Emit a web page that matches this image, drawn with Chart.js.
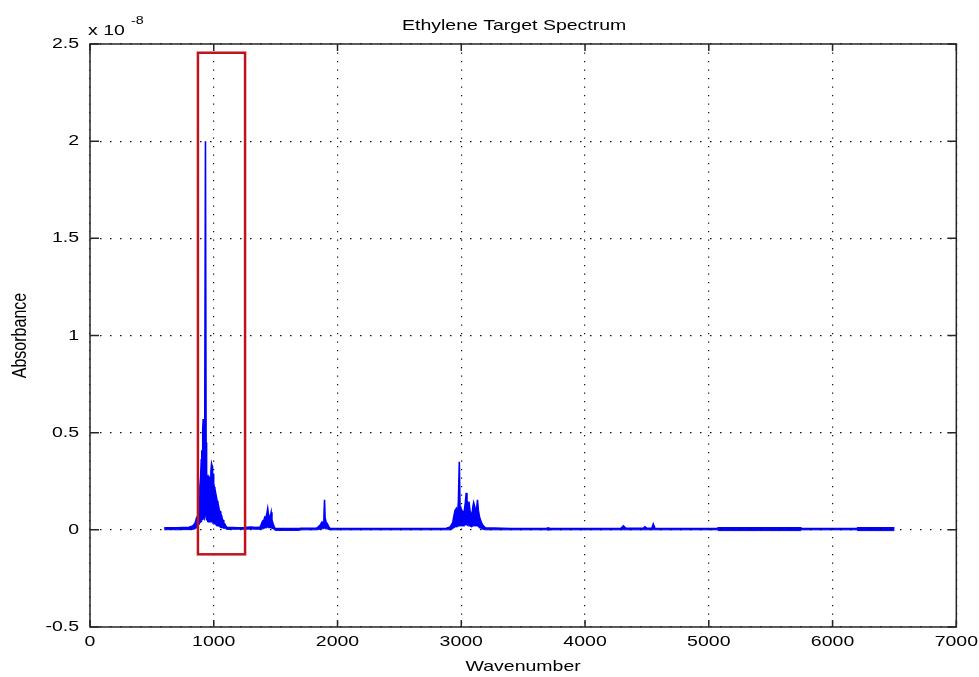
<!DOCTYPE html>
<html>
<head>
<meta charset="utf-8">
<title>Ethylene Target Spectrum</title>
<script src="https://cdn.jsdelivr.net/npm/chart.js@4.4.1/dist/chart.umd.min.js"></script>
<style>
  html, body { margin: 0; padding: 0; background: #ffffff; }
  #wrap { width: 979px; height: 677px; }
</style>
</head>
<body>
<div id="wrap"><canvas id="spectrum" width="979" height="677"></canvas></div>
<script>
// Absorbance samples (units of 1e-8): upper and lower edge of the dense line pattern
const wavenumber = [
  600, 650, 700, 750, 800, 830, 850, 860, 868, 875, 882, 888, 894, 899, 903, 907, 911, 915, 919, 923,
  927, 933, 938, 942, 947, 952, 957, 962, 967, 972, 977, 982, 986, 990, 994, 999, 1004, 1009, 1015, 1021,
  1027, 1033, 1039, 1045, 1051, 1057, 1063, 1069, 1075, 1081, 1089, 1097, 1106, 1150, 1200, 1250, 1300, 1340, 1375, 1385,
  1395, 1405, 1412, 1420, 1428, 1436, 1442, 1450, 1458, 1464, 1470, 1480, 1490, 1500, 1600, 1690, 1700, 1780, 1830, 1845,
  1860, 1875, 1885, 1890, 1895, 1900, 1908, 1918, 1930, 1940, 2100, 2300, 2500, 2700, 2880, 2910, 2930, 2940, 2950, 2960,
  2970, 2977, 2984, 2990, 2997, 3005, 3015, 3025, 3033, 3040, 3046, 3055, 3062, 3070, 3078, 3086, 3094, 3100, 3108, 3116,
  3124, 3131, 3138, 3146, 3155, 3165, 3178, 3195, 3400, 3690, 3700, 3720, 4000, 4290, 4310, 4330, 4470, 4484, 4500, 4540,
  4551, 4565, 4800, 5070, 5075, 5400, 5743, 5750, 6000, 6200, 6203, 6500
];
const absMax = [
  0.010, 0.011, 0.010, 0.012, 0.013, 0.020, 0.035, 0.060, 0.050, 0.120, 0.170, 0.220, 0.270, 0.360, 0.410, 0.390, 0.520, 0.570, 0.550, 0.480,
  0.500, 2.000, 0.450, 0.290, 0.270, 0.280, 0.250, 0.270, 0.260, 0.240, 0.300, 0.340, 0.330, 0.270, 0.290, 0.240, 0.220, 0.210, 0.190, 0.170,
  0.150, 0.140, 0.120, 0.100, 0.095, 0.080, 0.075, 0.055, 0.050, 0.035, 0.030, 0.020, 0.012, 0.012, 0.011, 0.012, 0.014, 0.012, 0.014, 0.030,
  0.045, 0.050, 0.065, 0.060, 0.080, 0.110, 0.080, 0.060, 0.070, 0.090, 0.050, 0.030, 0.012, 0.006, 0.006, 0.006, 0.008, 0.008, 0.009, 0.015,
  0.025, 0.040, 0.030, 0.060, 0.155, 0.060, 0.040, 0.030, 0.015, 0.008, 0.007, 0.007, 0.007, 0.007, 0.008, 0.015, 0.035, 0.070, 0.100, 0.110,
  0.080, 0.150, 0.350, 0.120, 0.090, 0.100, 0.085, 0.100, 0.140, 0.190, 0.150, 0.130, 0.145, 0.100, 0.080, 0.075, 0.120, 0.140, 0.120, 0.100,
  0.110, 0.155, 0.100, 0.070, 0.050, 0.035, 0.020, 0.010, 0.007, 0.007, 0.010, 0.007, 0.007, 0.008, 0.020, 0.008, 0.008, 0.016, 0.008, 0.008,
  0.030, 0.008, 0.007, 0.007, 0.010, 0.010, 0.010, 0.007, 0.007, 0.007, 0.010, 0.010
];
const absMin = [
  0.000, 0.001, 0.000, 0.001, 0.001, 0.002, 0.005, 0.010, 0.010, 0.020, 0.030, 0.030, 0.040, 0.040, 0.050, 0.050, 0.050, 0.060, 0.060, 0.050,
  0.060, 0.080, 0.060, 0.050, 0.050, 0.040, 0.040, 0.040, 0.040, 0.040, 0.040, 0.040, 0.040, 0.040, 0.030, 0.030, 0.030, 0.030, 0.030, 0.020,
  0.020, 0.020, 0.020, 0.015, 0.015, 0.010, 0.010, 0.010, 0.010, 0.008, 0.008, 0.005, 0.002, 0.003, 0.003, 0.003, 0.004, 0.003, 0.003, 0.003,
  0.005, 0.005, 0.010, 0.010, 0.010, 0.015, 0.010, 0.010, 0.010, 0.010, 0.008, 0.005, 0.000, -0.003, -0.003, -0.003, 0.000, 0.000, 0.000, 0.001,
  0.004, 0.005, 0.005, 0.005, 0.008, 0.005, 0.005, 0.004, 0.001, 0.000, 0.000, 0.000, 0.000, 0.000, 0.000, 0.000, 0.005, 0.010, 0.015, 0.015,
  0.015, 0.020, 0.020, 0.020, 0.020, 0.020, 0.020, 0.020, 0.025, 0.025, 0.025, 0.020, 0.020, 0.020, 0.015, 0.015, 0.020, 0.020, 0.020, 0.020,
  0.020, 0.020, 0.015, 0.010, 0.008, 0.005, 0.002, 0.000, 0.000, 0.000, -0.002, 0.000, 0.000, 0.000, 0.000, 0.000, 0.000, 0.000, 0.000, 0.000,
  0.000, 0.000, 0.000, 0.000, -0.004, -0.004, -0.004, 0.000, 0.000, 0.000, -0.004, -0.004
];

const xTicks = [0, 1000, 2000, 3000, 4000, 5000, 6000, 7000];
const yTicks = [-0.5, 0, 0.5, 1, 1.5, 2, 2.5];
const chartTitle = 'Ethylene Target Spectrum';
const xLabel = 'Wavenumber';
const yLabel = 'Absorbance';
const scaleBase = 'x 10';
const scaleExponent = '-8';

// Highlighted band around the strongest absorption (wavenumber / absorbance corners)
const highlightX = [872, 1253];
const highlightY = [-0.126, 2.455];

const canvas = document.getElementById('spectrum');
const ctx = canvas.getContext('2d');

// Labels use a horizontally widened Helvetica-like face
const TEXT_STRETCH = 1.3;
const baseFillText = ctx.fillText;
ctx.fillText = function (text, x, y, maxWidth) {
  const m = this.getTransform();
  const p = m.transformPoint(new DOMPoint(x, y));
  this.save();
  this.setTransform(new DOMMatrix().translate(p.x, p.y).scale(TEXT_STRETCH, 1).translate(-p.x, -p.y).multiply(m));
  if (maxWidth === undefined) baseFillText.call(this, text, x, y);
  else baseFillText.call(this, text, x, y, maxWidth);
  this.restore();
};

const FONT_FAMILY = '"Liberation Sans", Helvetica, Arial, sans-serif';
const labelFont = { family: FONT_FAMILY, size: 15 };

const toPoints = (vals) => wavenumber.map((w, i) => ({ x: w, y: vals[i] }));

// Box frame, inward tick marks, highlight rectangle, title and exponent
const framePlugin = {
  id: 'frame',
  afterDraw(chart) {
    const { ctx, chartArea: { left, right, top, bottom }, scales: { x, y } } = chart;
    ctx.save();
    ctx.strokeStyle = '#262626';
    ctx.lineWidth = 1.5;
    ctx.strokeRect(left, top, right - left, bottom - top);
    ctx.beginPath();
    xTicks.forEach(v => {
      const px = x.getPixelForValue(v);
      ctx.moveTo(px, bottom); ctx.lineTo(px, bottom - 7);
      ctx.moveTo(px, top); ctx.lineTo(px, top + 7);
    });
    yTicks.forEach(v => {
      const py = y.getPixelForValue(v);
      ctx.moveTo(left, py); ctx.lineTo(left + 9, py);
      ctx.moveTo(right, py); ctx.lineTo(right - 9, py);
    });
    ctx.stroke();

    const hx0 = x.getPixelForValue(highlightX[0]);
    const hx1 = x.getPixelForValue(highlightX[1]);
    const hy0 = y.getPixelForValue(highlightY[1]);
    const hy1 = y.getPixelForValue(highlightY[0]);
    ctx.strokeStyle = '#c0141c';
    ctx.lineWidth = 2.5;
    ctx.strokeRect(hx0, hy0, hx1 - hx0, hy1 - hy0);

    ctx.fillStyle = '#000000';
    ctx.font = '15px ' + FONT_FAMILY;
    ctx.textAlign = 'center';
    ctx.textBaseline = 'middle';
    ctx.fillText(chartTitle, (left + right) / 2 - 9, 26);
    ctx.textAlign = 'left';
    ctx.fillText(scaleBase, left - 2, 31);
    ctx.font = '11px ' + FONT_FAMILY;
    ctx.fillText(scaleExponent, left + 41, 21);
    ctx.restore();
  }
};

new Chart(ctx, {
  type: 'line',
  data: {
    datasets: [
      {
        label: 'upper',
        data: toPoints(absMax),
        borderColor: '#0000ff',
        backgroundColor: '#0000ff',
        borderWidth: 1.6,
        pointRadius: 0,
        tension: 0,
        fill: '+1'
      },
      {
        label: 'lower',
        data: toPoints(absMin),
        borderColor: '#0000ff',
        backgroundColor: '#0000ff',
        borderWidth: 1,
        pointRadius: 0,
        tension: 0,
        fill: false
      }
    ]
  },
  options: {
    responsive: false,
    animation: false,
    devicePixelRatio: 1,
    layout: { padding: { left: 0, right: 20, top: 44, bottom: 0 } },
    plugins: { legend: { display: false }, tooltip: { enabled: false } },
    scales: {
      x: {
        type: 'linear',
        min: 0,
        max: 7000,
        afterBuildTicks: s => { s.ticks = xTicks.map(v => ({ value: v })); },
        afterFit: s => { s.height = 50; },
        ticks: { callback: v => String(v), font: labelFont, color: '#000000', padding: 6, maxRotation: 0, autoSkip: false },
        grid: { color: '#111111', lineWidth: 1.2, drawTicks: false, z: 1 },
        border: { display: false, dash: [1.2, 7.3] },
        title: { display: true, text: xLabel, font: labelFont, color: '#000000', padding: { top: 0, bottom: 1 } }
      },
      y: {
        type: 'linear',
        min: -0.5,
        max: 2.5,
        afterBuildTicks: s => { s.ticks = yTicks.map(v => ({ value: v })); },
        afterFit: s => { s.width = 90; },
        ticks: { callback: v => String(v), font: labelFont, color: '#000000', padding: 11, autoSkip: false },
        grid: { color: '#111111', lineWidth: 1.2, drawTicks: false, z: 1 },
        border: { display: false, dash: [1.5, 8.5] },
        title: { display: true, text: yLabel, font: { family: FONT_FAMILY, size: 16 }, color: '#000000', padding: { top: 11, bottom: 0 } }
      }
    }
  },
  plugins: [framePlugin]
});
</script>
</body>
</html>
